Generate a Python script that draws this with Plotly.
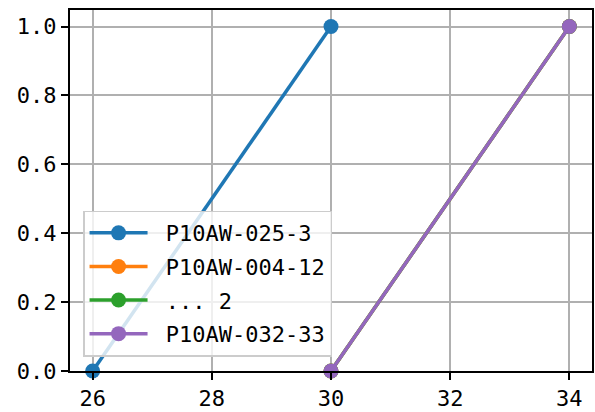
import plotly.graph_objects as go

names = ["P10AW-025-3", "P10AW-004-12", "... 2", "P10AW-032-33"]
xs = [[26, 30], [30, 34], [30, 34], [30, 34]]
ys = [[0, 1], [0, 1], [0, 1], [0, 1]]
colors = ["#1f77b4", "#ff7f0e", "#2ca02c", "#9467bd"]
xticks = [26, 28, 30, 32, 34]
yticks = [0.0, 0.2, 0.4, 0.6, 0.8, 1.0]

FONT = "DejaVu Sans Mono"

fig = go.Figure()
for i, (n, x, y, c) in enumerate(zip(names, xs, ys, colors)):
    fig.add_trace(go.Scatter(x=x, y=y, name=" " + n, mode="lines+markers",
                             legendgroup=f"g{i}",
                             line=dict(color=c, width=3.5),
                             marker=dict(color=c, size=15),
                             cliponaxis=False))

axis_common = dict(showline=True, linecolor="black", linewidth=2, mirror=True,
                   ticks="outside", ticklen=7, tickwidth=1.5, tickcolor="black",
                   showgrid=True, gridcolor="#b0b0b0", gridwidth=1.5,
                   zeroline=False, tickfont=dict(family=FONT, size=22, color="black"))

fig.update_xaxes(range=[25.62, 34.38], tickvals=xticks, **axis_common)
fig.update_yaxes(range=[0, 1.048], tickvals=yticks, tickformat=".1f", **axis_common)

fig.update_layout(
    width=595, height=412,
    margin=dict(l=70, r=1, t=10, b=39),
    plot_bgcolor="white", paper_bgcolor="white",
    font=dict(family=FONT, size=22, color="black"),
    legend=dict(x=0.025, y=0.04, xanchor="left", yanchor="bottom",
                bgcolor="rgba(255,255,255,0.8)", bordercolor="#cccccc", borderwidth=1.5,
                font=dict(family=FONT, size=22, color="black"),
                itemwidth=58, tracegroupgap=2),
)

fig.write_html("out.html", config={"displayModeBar": False},
               post_script="document.body.style.margin='0';document.body.style.overflow='hidden';")
